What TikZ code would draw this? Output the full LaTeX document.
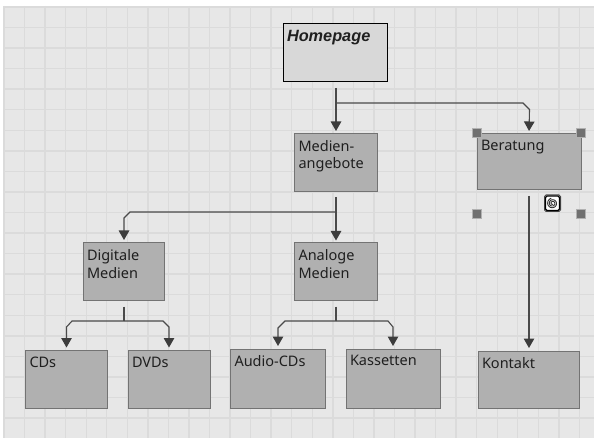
\documentclass[tikz,border=0pt]{standalone}
\usepackage{fontspec}
\setmainfont{Noto Sans}
\newfontfamily\homefont{Liberation Sans}
\usetikzlibrary{arrows.meta}
\definecolor{paper}{HTML}{E7E7E7}
\definecolor{gridc}{HTML}{DBDBDB}
\definecolor{boxfill}{HTML}{B0B0B0}
\definecolor{boxedge}{HTML}{737373}
\definecolor{topfill}{HTML}{D8D8D8}
\definecolor{linec}{HTML}{4A4A4A}
\definecolor{tipc}{HTML}{3C3C3C}
\definecolor{handlec}{HTML}{707070}
\tikzset{
  x=1pt,y=-1pt,
  boxbase/.style={rectangle,draw=boxedge,fill=boxfill,line width=1pt,inner sep=0pt,outer sep=0pt},
  topbox/.style={boxbase,draw=black,fill=topfill},
  boxlabel/.style={inner sep=0pt,outer sep=0pt,anchor=north west,align=left,text=black!88,
     font=\fontsize{14.5}{17.8}\selectfont},
  conn/.style={draw=linec,line width=1.1pt},
  arrowconn/.style={conn,-{Triangle[width=10.5pt,length=9.5pt,color=tipc]}},
  handle/.style={rectangle,draw=handlec!45!paper,fill=handlec,line width=1pt,minimum size=8.5pt,inner sep=0pt},
}
\newcommand{\bx}[7][boxbase]{%
  \node[#1,minimum width=#5-#3,minimum height=#6-#4] (#2) at ({(#3+#5)/2},{(#4+#6)/2}) {};
  \node[boxlabel] (#2t) at (#3+4,#4+6.5) {#7};
}
\begin{document}
\begin{tikzpicture}
\useasboundingbox (0,0) rectangle (594,438);
\fill[white] (0,0) rectangle (594,438);
\fill[paper] (3.5,6) rectangle (594,438);
\foreach \k in {0,...,28} \draw[gridc,line width=1.4pt] ({4+20.55*\k},6) -- ({4+20.55*\k},438);
\foreach \k in {0,...,20} \draw[gridc,line width=1.4pt] (3.5,{7+20.55*\k}) -- (594,{7+20.55*\k});

\bx[topbox]{home}{283}{24}{387}{82}{\homefont\fontsize{16.3}{18}\selectfont\textbf{\textit{Homepage}}}
\bx{med}{294.5}{133.5}{377}{191.5}{Medien-\\angebote}
\bx{ber}{477}{133.5}{581}{190}{Beratung}
\bx{dig}{83}{243}{164}{300.5}{Digitale\\Medien}
\bx{ana}{294.5}{243}{377}{300.5}{Analoge\\Medien}
\bx{cds}{25.5}{350.5}{107.5}{408}{CDs}
\bx{dvd}{128}{350.5}{210}{408}{DVDs}
\bx{aud}{230.5}{349}{325.5}{408}{Audio-CDs}
\bx{kas}{346}{349}{440}{408.5}{Kassetten}
\bx{kon}{478}{351}{579.5}{408.5}{Kontakt}

% branch points
\coordinate (hj) at (336,103);
\coordinate (mj) at (336,212);
\coordinate (dj) at (124,321);
\coordinate (aj) at (336,321);

\draw[arrowconn,shorten <=6pt,shorten >=2.5pt] (home.south -| hj) -- (med.north -| hj);
\draw[arrowconn,shorten >=2.5pt] (hj) -- (523,103) -- (529.5,109.5) -- (ber.north);
\draw[arrowconn,shorten <=5.5pt,shorten >=2.5pt] (med.south -| mj) -- (ana.north -| mj);
\draw[arrowconn,shorten >=3pt] (mj) -- (130,212) -- (124,218) -- (dig.north -| dj);
\draw[conn,shorten <=6pt] (dig.south -| dj) -- (dj);
\draw[conn,shorten <=6pt] (ana.south -| aj) -- (aj);
\draw[arrowconn,shorten >=3pt] (dj) -- (72,321) -- (66.5,327) -- (cds.north);
\draw[arrowconn,shorten >=3pt] (dj) -- (163,321) -- (169,327) -- (dvd.north);
\draw[arrowconn,shorten >=3pt] (aj) -- (285,321) -- (278,328) -- (aud.north);
\draw[arrowconn,shorten >=3pt] (aj) -- (388,321) -- (393,327) -- (kas.north);
\draw[arrowconn,shorten <=6pt,shorten >=3pt] (ber.south) -- (kon.north -| ber.south);

\node[handle] (h1) at (477,133) {};
\node[handle] (h2) at (581,133) {};
\node[handle] (h3) at (477,214) {};
\node[handle] (h4) at (581,214) {};

\draw[black!70,line width=1pt,rounded corners=1.5pt] (544.5,195) rectangle (560.5,211.5);
\draw[black,fill=white,line width=1.1pt,rounded corners=1.5pt] (545.5,196) rectangle (559.5,210.5);
\draw[black!80,line width=0.9pt,domain=0:16,samples=60,smooth,variable=\t]
   plot ({552.5+(0.9+0.27*\t)*cos(\t*57.3+60)},{203.3+(0.9+0.27*\t)*sin(\t*57.3+60)});
\end{tikzpicture}
\end{document}
